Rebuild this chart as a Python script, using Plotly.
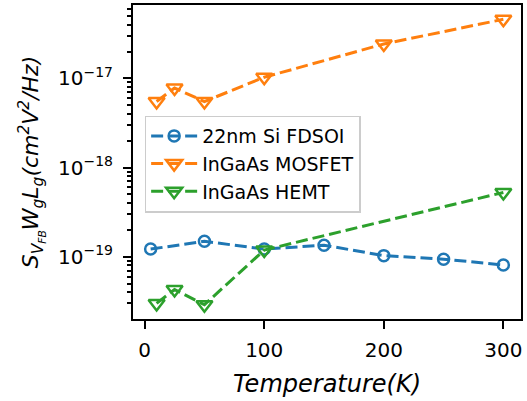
import numpy as np
import plotly.graph_objects as go

# Data
si_T = [5, 50, 100, 150, 200, 250, 300]
si_S = [1.22e-19, 1.49e-19, 1.22e-19, 1.35e-19, 1.03e-19, 9.4e-20, 8.1e-20]
mos_T = [10, 25, 50, 100, 200, 300]
mos_S = [5.5e-18, 7.8e-18, 5.5e-18, 1.03e-17, 2.43e-17, 4.6e-17]
hemt_T = [10, 25, 50, 100, 300]
hemt_S = [3.0e-20, 4.3e-20, 2.9e-20, 1.19e-19, 5.26e-19]
names = ["22nm Si FDSOI", "InGaAs MOSFET", "InGaAs HEMT"]
colors = ["#1f77b4", "#ff7f0e", "#2ca02c"]
x_ticks = [0, 100, 200, 300]
y_ticks = [1e-19, 1e-18, 1e-17]
y_ticktext = ["10<sup>\u221219</sup>", "10<sup>\u221218</sup>", "10<sup>\u221217</sup>"]

FONT = "DejaVu Sans"
fig = go.Figure()
series = [(si_T, si_S, "circle-open", 11), (mos_T, mos_S, "triangle-down-open", 14),
          (hemt_T, hemt_S, "triangle-down-open", 14)]
for (x, y, sym, sz), name, c in zip(series, names, colors):
    fig.add_trace(go.Scatter(
        x=x, y=y, name=name, mode="lines+markers",
        line=dict(color=c, width=3, dash="12px,5px"),
        marker=dict(symbol=sym, size=sz, color=c, line=dict(color=c, width=2.5)),
    ))

all_x = np.array(si_T + mos_T + hemt_T, dtype=float)
all_y = np.log10(np.array(si_S + mos_S + hemt_S))
xm = 0.05 * (all_x.max() - all_x.min())
ym = 0.05 * (all_y.max() - all_y.min())

minor_vals = [m * 10.0 ** e for e in range(-21, -15) for m in range(2, 10)]

fig.update_layout(
    width=527, height=401,
    margin=dict(l=133, r=6, t=5, b=82),
    paper_bgcolor="white", plot_bgcolor="white",
    font=dict(family=FONT, size=20, color="black"),
    showlegend=True,
    legend=dict(x=0.03, y=0.648, xanchor="left", yanchor="top",
                bgcolor="rgba(255,255,255,0.8)", bordercolor="#cccccc", borderwidth=1.5,
                font=dict(family=FONT, size=19), tracegroupgap=0, itemwidth=46),
    xaxis=dict(
        range=[all_x.min() - xm, all_x.max() + xm],
        tickvals=x_ticks, ticks="outside", ticklen=8, tickwidth=2, tickcolor="black",
        ticklabelstandoff=4,
        showline=True, linecolor="black", linewidth=2, mirror=True,
        showgrid=False, zeroline=False, automargin=False,
        tickfont=dict(family=FONT, size=20),
        title=dict(text="<i>Temperature(K)</i>", font=dict(family=FONT, size=24), standoff=14),
    ),
    yaxis=dict(
        type="log",
        range=[all_y.min() - ym, all_y.max() + ym],
        tickvals=y_ticks, ticktext=y_ticktext,
        ticks="outside", ticklen=8, tickwidth=2, tickcolor="black",
        ticklabelstandoff=6,
        minor=dict(tickmode="array", tickvals=minor_vals, ticks="outside", ticklen=4,
                   tickwidth=1.5, tickcolor="black", showgrid=False),
        showline=True, linecolor="black", linewidth=2, mirror=True,
        showgrid=False, zeroline=False, automargin=False,
        tickfont=dict(family=FONT, size=20),
        title=dict(text="<i>S<sub>V<sub>FB</sub></sub>W<sub>g</sub>L<sub>g</sub>(cm<sup>2</sup>V<sup>2</sup>/Hz)</i>",
                   font=dict(family=FONT, size=22), standoff=13),
    ),
)

fig.write_html("out.html", config={"displayModeBar": False},
               post_script="document.body.style.margin='0';")
